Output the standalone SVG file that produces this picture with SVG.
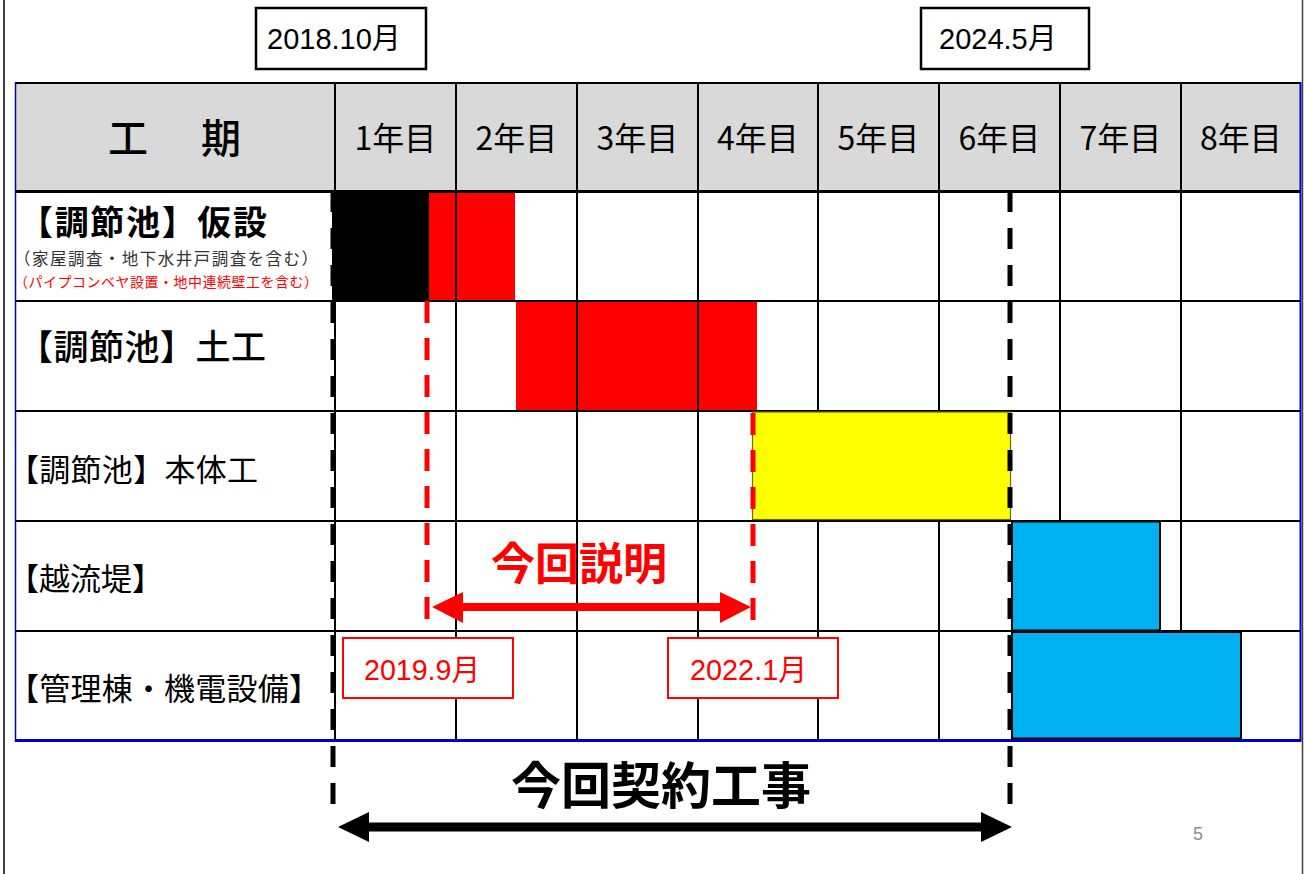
<svg xmlns="http://www.w3.org/2000/svg" width="1304" height="874" viewBox="0 0 1304 874">
<style>
.cjk{font-family:"Noto Sans CJK JP","Noto Sans CJK SC",sans-serif}
.lat{font-family:"Liberation Sans","Noto Sans CJK JP",sans-serif}
.grid{stroke:#000;stroke-width:2;fill:none}
.dk{stroke:#000;stroke-width:5;stroke-dasharray:21 16;fill:none}
.dr{stroke:#ff0000;stroke-width:5;stroke-dasharray:22 15;fill:none}
.box{fill:#fff;stroke:#000;stroke-width:2.5}
.rbox{fill:#fff;stroke:#ff0000;stroke-width:2}
.yr{font-size:32px;fill:#000;text-anchor:middle}
</style>
<rect width="1304" height="874" fill="#fff"/>
<!-- page border -->
<line x1="4" y1="0" x2="4" y2="874" stroke="#404040" stroke-width="2"/>
<line x1="1302.5" y1="0" x2="1302.5" y2="874" stroke="#404040" stroke-width="1.5"/>

<!-- header background -->
<rect x="15" y="82" width="1286" height="109" fill="#d9d9d9"/>

<!-- bars under grid -->
<g id="bar-kasetsu">
<rect x="332" y="190" width="97" height="111" fill="#000"/>
<rect x="429" y="191" width="86" height="110" fill="#ff0000"/>
</g>
<g id="bar-doko">
<rect x="516" y="301" width="241" height="110" fill="#ff0000"/>
</g>

<!-- grid -->
<g id="grid" class="grid">
<line x1="335" y1="82" x2="335" y2="741"/>
<line x1="456" y1="82" x2="456" y2="741"/>
<line x1="577" y1="82" x2="577" y2="741"/>
<line x1="698" y1="82" x2="698" y2="741"/>
<line x1="818" y1="82" x2="818" y2="741"/>
<line x1="939" y1="82" x2="939" y2="741"/>
<line x1="1060" y1="82" x2="1060" y2="741"/>
<line x1="1181" y1="82" x2="1181" y2="741"/>
<line x1="15" y1="83" x2="1301" y2="83"/>
<line x1="15" y1="191.5" x2="1301" y2="191.5" stroke-width="3"/>
<line x1="15" y1="301" x2="1301" y2="301"/>
<line x1="15" y1="411" x2="1301" y2="411"/>
<line x1="15" y1="521" x2="1301" y2="521"/>
<line x1="15" y1="631" x2="1301" y2="631"/>
<line x1="15.5" y1="82" x2="15.5" y2="742" stroke="#0000c0" stroke-width="1.5"/>
<line x1="1300.5" y1="82" x2="1300.5" y2="742" stroke="#0000c0" stroke-width="2"/>
<line x1="15" y1="740.5" x2="1301" y2="740.5" stroke="#0000c0" stroke-width="3"/>
</g>

<!-- bars over grid -->
<g id="bar-hontai">
<rect x="752.5" y="412" width="258" height="107.5" fill="#ffff00" stroke="#6b6b00" stroke-width="1.2"/>
</g>
<g id="bar-etsuryutei">
<rect x="1012" y="521.5" width="148" height="109" fill="#00b0f0" stroke="#000" stroke-width="2"/>
</g>
<g id="bar-kanri">
<rect x="1012" y="632" width="229" height="106.5" fill="#00b0f0" stroke="#000" stroke-width="2"/>
</g>

<!-- header texts -->
<g id="header">
<text class="cjk" x="108" y="153" font-size="40" font-weight="500" textLength="133">工　期</text>
<g class="cjk yr">
<text x="395.5" y="150">1年目</text>
<text x="516.5" y="150">2年目</text>
<text x="637.5" y="150">3年目</text>
<text x="758" y="150">4年目</text>
<text x="878.5" y="150">5年目</text>
<text x="999.5" y="150">6年目</text>
<text x="1120.5" y="150">7年目</text>
<text x="1241" y="150">8年目</text>
</g>
</g>

<!-- row labels -->
<g id="row-kasetsu">
<text class="cjk" x="19" y="235" font-size="34" font-weight="700" textLength="248">【調節池】仮設</text>
<text class="cjk" x="14" y="265" font-size="16.5" fill="#333" textLength="304">（家屋調査・地下水井戸調査を含む）</text>
<text class="cjk" x="14" y="286.5" font-size="14" fill="#ff0000" textLength="304">（パイプコンベヤ設置・地中連続壁工を含む）</text>
</g>
<g id="row-doko">
<text class="cjk" x="18" y="360" font-size="35" font-weight="500" textLength="248">【調節池】土工</text>
</g>
<g id="row-hontai">
<text class="cjk" x="8" y="481" font-size="31" textLength="250">【調節池】本体工</text>
</g>
<g id="row-etsuryutei">
<text class="cjk" x="8" y="590" font-size="31">【越流堤】</text>
</g>
<g id="row-kanri">
<text class="cjk" x="8" y="700" font-size="31" textLength="312">【管理棟・機電設備】</text>
</g>

<!-- date boxes -->
<g id="date-2018">
<rect class="box" x="256" y="8" width="170" height="61"/>
<text class="lat" x="267" y="49" font-size="29">2018.10月</text>
</g>
<g id="date-2024">
<rect class="box" x="921" y="8" width="168" height="61"/>
<text class="lat" x="939" y="49" font-size="29">2024.5月</text>
</g>

<!-- connectors -->
<g id="connectors">
<line class="dk" x1="333" y1="191" x2="333" y2="818"/>
<line class="dk" x1="1010" y1="191" x2="1010" y2="818"/>
<line class="dr" x1="427" y1="301" x2="427" y2="625"/>
<line class="dr" x1="753" y1="413" x2="753" y2="625"/>
<polygon fill="#ff0000" points="432,607 463,592 463,603 720,603 720,592 751,607 720,623 720,611 463,611 463,623"/>
<polygon fill="#000" points="338,827 369,812 369,822.5 981,822.5 981,812 1012,827 981,842 981,831.5 369,831.5 369,842"/>
</g>

<g id="date-2019">
<rect class="rbox" x="343" y="638" width="170" height="60"/>
<text class="lat" x="364" y="680" font-size="30" fill="#ff0000" textLength="116" lengthAdjust="spacingAndGlyphs">2019.9月</text>
</g>
<g id="date-2022">
<rect class="rbox" x="668" y="638" width="170" height="60"/>
<text class="lat" x="690" y="680" font-size="30" fill="#ff0000" textLength="117" lengthAdjust="spacingAndGlyphs">2022.1月</text>
</g>

<g id="label-setsumei">
<text class="cjk" x="579" y="580" font-size="44" font-weight="700" fill="#ff0000" text-anchor="middle">今回説明</text>
</g>
<g id="label-keiyaku">
<text class="cjk" x="661" y="804" font-size="50" font-weight="700" fill="#000" text-anchor="middle">今回契約工事</text>
</g>
<text class="lat" x="1193" y="840" font-size="18" fill="#8c8c8c">5</text>
</svg>
